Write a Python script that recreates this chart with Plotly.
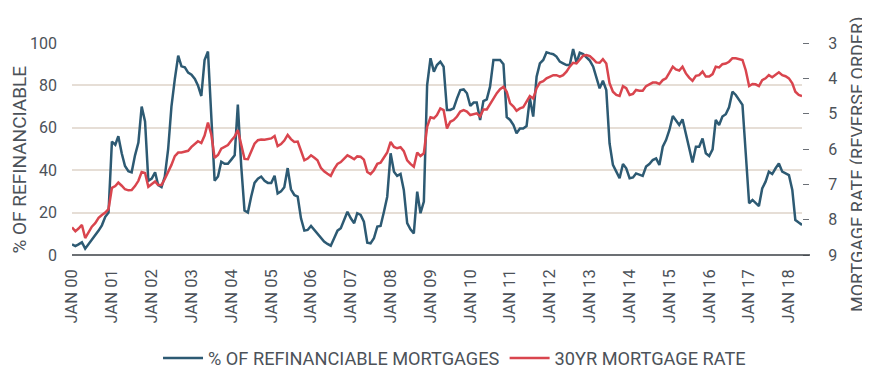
import pandas as pd
import plotly.graph_objects as go

# % of refinanciable mortgages (monthly, Jan 2000 - May 2018)
refi_pct = [
    5, 4.2, 5, 6, 3, 5, 7, 9.5, 11.5, 14, 18, 20,
    53.5, 52, 56, 48, 42, 39.5, 39, 47, 53, 70, 63, 35,
    36, 39, 33, 32, 37, 50, 70, 83, 94, 89, 88.5, 86,
    85, 83, 80, 75, 92, 96, 68, 35, 37, 44, 43, 43,
    45, 47, 71, 42, 21, 20, 27.5, 34, 36, 37, 35, 34,
    34, 37.4, 29, 30, 32, 41, 31, 28.3, 27.5, 17.3, 11.5, 11.8,
    13.7, 11.8, 10.2, 7.9, 6.3, 5.2, 4.4, 7.9, 11.5, 12.6, 16.5, 20.4,
    17.3, 15, 19.7, 18.9, 15.7, 5.8, 5.5, 7.9, 13.4, 13.7, 20.4, 27.5,
    48, 39.3, 37.3, 38.2, 30.7, 15, 12.1, 10.2, 29.9, 19.7, 25.2, 80.2,
    92.8, 86.5, 89.6, 91.2, 88.8, 68.4, 68.4, 69.2, 73.9, 77.8, 78.1, 76.3,
    70.3, 71.9, 71.9, 63.7, 72.6, 73.4, 79.4, 92, 92, 92, 90, 65,
    63.7, 61.3, 57.4, 59.7, 59.7, 60.8, 73.9, 65.3, 84.1, 90.4, 92, 95.6,
    95.1, 94.7, 93.6, 91.2, 90.4, 89.6, 89.6, 97.2, 90.7, 95.4, 94.8, 93.2,
    91.7, 88.8, 84.1, 78.6, 82.2, 77.8, 52.7, 42.5, 39.3, 36.2, 42.9, 40.9,
    36.2, 36.6, 38.5, 37.7, 37.3, 41.7, 42.9, 44.8, 45.6, 42.5, 51.1, 54.2,
    59, 65.6, 63.7, 61.3, 64, 56.6, 49.5, 43.6, 51.1, 51.1, 55, 48,
    46.7, 49.8, 63.7, 61.3, 65.3, 66.4, 69.7, 77, 75.5, 73.4, 70.8, 48,
    24.4, 26, 24.7, 23.1, 31.4, 34.6, 39.3, 38.2, 40.9, 43.2, 39.3, 38.5,
    37.7, 30.7, 16.5, 15.3, 14.2,
]

# 30yr mortgage rate (%), plotted on reversed right axis
mortgage_rate = [
    8.22, 8.33, 8.25, 8.15, 8.52, 8.34, 8.2, 8.1, 7.95, 7.87, 7.8, 7.7,
    7.1, 7.05, 6.95, 7.04, 7.14, 7.17, 7.16, 7.05, 6.9, 6.65, 6.68, 7.07,
    7.0, 6.92, 7.02, 7.02, 6.85, 6.66, 6.45, 6.2, 6.1, 6.1, 6.08, 6.05,
    5.94, 5.86, 5.78, 5.83, 5.62, 5.25, 5.58, 6.25, 6.17, 5.99, 5.93, 5.89,
    5.76, 5.65, 5.46, 5.9, 6.28, 6.29, 6.05, 5.85, 5.75, 5.73, 5.74, 5.73,
    5.7, 5.63, 5.92, 5.86, 5.76, 5.6, 5.72, 5.8, 5.79, 6.05, 6.32, 6.27,
    6.18, 6.25, 6.32, 6.53, 6.63, 6.7, 6.76, 6.57, 6.42, 6.37, 6.27, 6.18,
    6.23, 6.29, 6.21, 6.22, 6.3, 6.65, 6.71, 6.6, 6.42, 6.39, 6.24, 6.1,
    5.8, 5.94, 5.98, 5.95, 6.06, 6.32, 6.42, 6.5, 6.1, 6.2, 6.12, 5.37,
    5.1, 5.13, 5.04, 4.85, 4.9, 5.42, 5.23, 5.18, 5.08, 4.94, 4.9, 4.94,
    5.04, 5.01, 4.99, 5.08, 4.88, 4.88, 4.73, 4.57, 4.42, 4.31, 4.24, 4.38,
    4.71, 4.8, 4.92, 4.85, 4.82, 4.66, 4.5, 4.57, 4.28, 4.12, 4.08, 4.0,
    3.95, 3.91, 3.91, 3.95, 3.91, 3.81, 3.67, 3.56, 3.58, 3.46, 3.36, 3.34,
    3.37, 3.46, 3.55, 3.56, 3.46, 3.58, 4.14, 4.38, 4.47, 4.5, 4.22, 4.28,
    4.47, 4.44, 4.33, 4.35, 4.35, 4.22, 4.16, 4.12, 4.12, 4.16, 4.05, 4.0,
    3.84, 3.67, 3.75, 3.78, 3.67, 3.86, 3.98, 4.07, 3.93, 3.91, 3.81, 3.95,
    3.95, 3.88, 3.67, 3.69, 3.6, 3.58, 3.53, 3.43, 3.43, 3.46, 3.48, 3.77,
    4.22, 4.16, 4.17, 4.22, 4.05, 4.0, 3.91, 3.97, 3.91, 3.83, 3.91, 3.94,
    4.0, 4.14, 4.38, 4.47, 4.5,
]

dates = pd.date_range("2000-01-01", periods=len(refi_pct), freq="MS")

tick_years = list(range(2000, 2019))
tick_dates = [f"{y}-01-01" for y in tick_years]
tick_labels = [f"JAN {y % 100:02d}" for y in tick_years]

left_ticks = [0, 20, 40, 60, 80, 100]
right_ticks = [3, 4, 5, 6, 7, 8, 9]

BLUE = "#2d5a73"
RED = "#d9454e"
TEXT = "#4c5259"
GRID = "#e6ded6"
AXIS = "#3b4046"
FONT = "Roboto"

fig = go.Figure()
fig.add_trace(go.Scatter(
    x=dates, y=refi_pct, name="% OF REFINANCIABLE MORTGAGES",
    mode="lines", line=dict(color=BLUE, width=2.5), yaxis="y",
))
fig.add_trace(go.Scatter(
    x=dates, y=mortgage_rate, name="30YR MORTGAGE RATE",
    mode="lines", line=dict(color=RED, width=2.5), yaxis="y2",
))

# page body adds an 8px offset, so figure is 862x384
fig.update_layout(
    width=862, height=384,
    margin=dict(l=64, r=68, t=35, b=137, pad=0, autoexpand=False),
    paper_bgcolor="white", plot_bgcolor="white",
    font=dict(family=FONT, color=TEXT, size=16),
    showlegend=True,
    legend=dict(
        orientation="h", x=0.518, xanchor="center",
        yref="container", y=0.088, yanchor="middle",
        xref="container",
        font=dict(family=FONT, size=18.2, color=TEXT),
        itemwidth=40, tracegroupgap=0,
    ),
    xaxis=dict(
        type="date",
        range=[dates[0], dates[-1]],
        tickvals=tick_dates, ticktext=tick_labels,
        tickangle=-90,
        tickfont=dict(family=FONT, size=16.5, color=TEXT),
        showgrid=False, showline=False, zeroline=False, ticks="",
        ticklabelstandoff=10, automargin=False,
    ),
    yaxis=dict(
        range=[0, 100], tickvals=left_ticks,
        tickfont=dict(family=FONT, size=16, color=TEXT),
        showgrid=True, gridcolor=GRID, gridwidth=1.5,
        zeroline=False, showline=False, ticks="",
        ticklabelstandoff=14, automargin=False,
    ),
    yaxis2=dict(
        range=[9, 3], tickvals=right_ticks, overlaying="y", side="right",
        tickfont=dict(family=FONT, size=16, color=TEXT),
        showgrid=False, zeroline=False, showline=False,
        ticks="outside", ticklen=6, tickcolor="#6b7077", tickwidth=1,
        ticklabelstandoff=16, automargin=False,
    ),
    shapes=[dict(
        type="line", xref="paper", yref="paper",
        x0=0, x1=1.011, y0=0, y1=0,
        line=dict(color=AXIS, width=1.5), layer="above",
    )],
    annotations=[
        dict(text="% OF REFINANCIABLE", xref="paper", yref="paper",
             x=-0.0712, y=0.45, textangle=-90, showarrow=False,
             xanchor="center", yanchor="middle",
             font=dict(family=FONT, size=19, color=TEXT)),
        dict(text="MORTGAGE RATE (REVERSE ORDER)", xref="paper", yref="paper",
             x=1.077, y=0.43, textangle=-90, showarrow=False,
             xanchor="center", yanchor="middle",
             font=dict(family=FONT, size=18, color=TEXT)),
    ],
)

fig.write_html("out.html")
